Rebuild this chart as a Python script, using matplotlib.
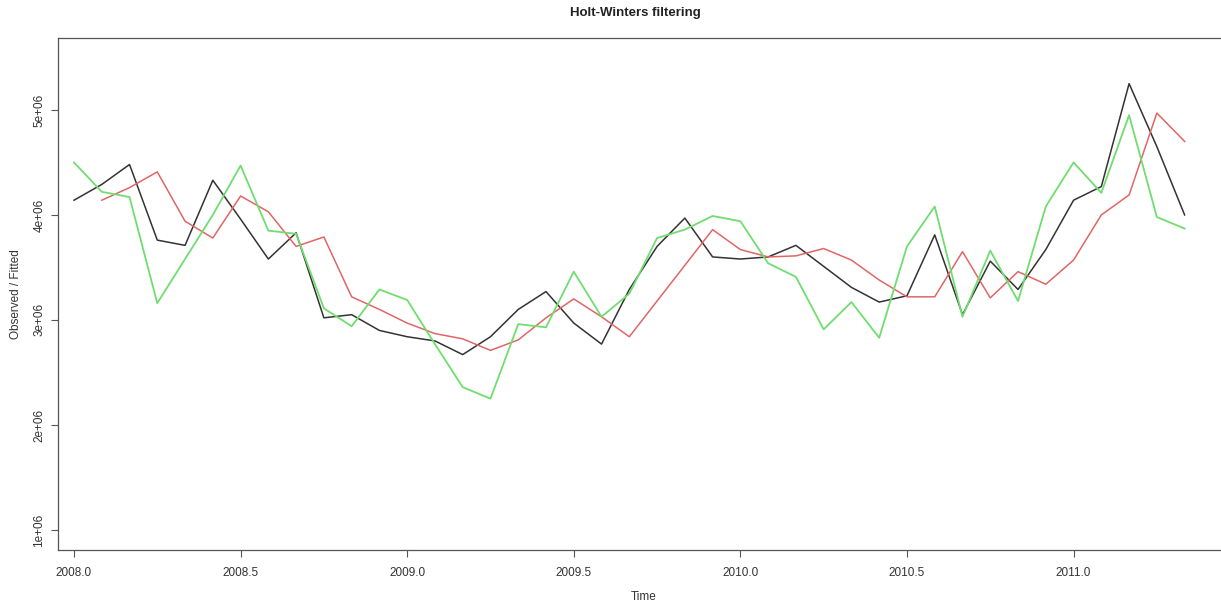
import matplotlib
matplotlib.use("Agg")
import matplotlib.pyplot as plt
import numpy as np

plt.rcParams["font.family"] = ["Liberation Sans", "DejaVu Sans"]

# monthly series starting 2008.0 (values in units of 1e6)
start = 2008.0
observado = [4.14, 4.29, 4.48, 3.76, 3.71, 4.33, 3.96, 3.58, 3.83, 3.02,
             3.05, 2.90, 2.84, 2.80, 2.67, 2.84, 3.10, 3.27, 2.97, 2.77,
             3.29, 3.70, 3.97, 3.60, 3.58, 3.60, 3.71, 3.51, 3.31, 3.17,
             3.23, 3.81, 3.05, 3.56, 3.29, 3.67, 4.14, 4.27, 5.25, 4.65,
             4.00]
ajustado = [4.14, 4.26, 4.41, 3.94, 3.78, 4.18, 4.03, 3.70, 3.79, 3.22,
            3.10, 2.97, 2.87, 2.82, 2.71, 2.81, 3.02, 3.20, 3.03, 2.84,
            3.18, 3.52, 3.86, 3.67, 3.60, 3.61, 3.68, 3.57, 3.38, 3.22,
            3.22, 3.65, 3.21, 3.46, 3.34, 3.57, 4.00, 4.19, 4.97, 4.70]
verde = [4.50, 4.22, 4.17, 3.16, 3.58, 4.00, 4.47, 3.85, 3.82, 3.11,
         2.94, 3.29, 3.19, 2.77, 2.36, 2.25, 2.96, 2.93, 3.46, 3.03,
         3.25, 3.78, 3.86, 3.99, 3.94, 3.54, 3.41, 2.91, 3.17, 2.83,
         3.70, 4.08, 3.03, 3.66, 3.18, 4.08, 4.50, 4.21, 4.95, 3.98,
         3.87]
xticks = [2008.0, 2008.5, 2009.0, 2009.5, 2010.0, 2010.5, 2011.0]
yticks = [1e6, 2e6, 3e6, 4e6, 5e6]
ytick_labels = ["1e+06", "2e+06", "3e+06", "4e+06", "5e+06"]

t_obs = start + np.arange(len(observado)) / 12
t_fit = start + (np.arange(len(ajustado)) + 1) / 12
t_ver = start + np.arange(len(verde)) / 12

fig = plt.figure(figsize=(12.21, 6.01), dpi=100)
ax = fig.add_axes([0.0475, 0.085, 0.96, 0.852])

ax.plot(t_obs, np.array(observado) * 1e6, color="#333333", linewidth=1.1)
ax.plot(t_fit, np.array(ajustado) * 1e6, color="#e06666", linewidth=1.1)
ax.plot(t_ver, np.array(verde) * 1e6, color="#70dd70", linewidth=1.3)

ax.set_xlim(2007.952, 2011.47)
ax.set_ylim(0.81e6, 5.686e6)
ax.set_xticks(xticks)
ax.set_xticklabels([f"{v:.1f}" for v in xticks])
ax.set_yticks(yticks)
ax.set_yticklabels(ytick_labels, rotation=90, va="center")

for s in ax.spines.values():
    s.set_color("#555555")
    s.set_linewidth(0.9)
ax.tick_params(direction="out", length=5, width=0.8, color="#555555",
               labelsize=8.5, labelcolor="#333333")
ax.tick_params(axis="x", pad=7)
ax.tick_params(axis="y", pad=4)

ax.set_xlabel("Time", fontsize=8.5, color="#333333", labelpad=9)
ax.set_ylabel("Observed / Fitted", fontsize=8.5, color="#333333", labelpad=8)
fig.text(0.5205, 0.978, "Holt-Winters filtering", ha="center", va="center",
         fontsize=9.5, fontweight="bold", color="#222222")

fig.savefig("out.png", dpi=100)
